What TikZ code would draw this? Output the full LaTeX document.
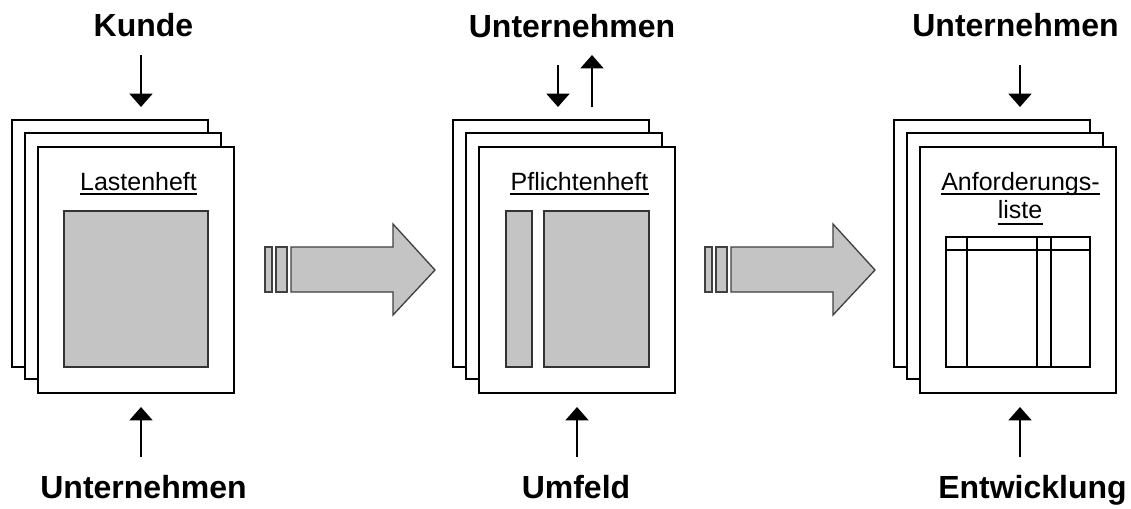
\documentclass[tikz,border=0pt]{standalone}
\usepackage{fontspec}
\setmainfont{Liberation Sans}[Ligatures=NoCommon]
\usetikzlibrary{arrows.meta}
\begin{document}
\begin{tikzpicture}[x=0.75pt,y=-0.75pt,
  page/.style={draw=black,fill=white,line width=1.1pt},
  block/.style={draw=black!80,fill=black!23,line width=1.1pt},
  tablelines/.style={draw=black,line width=1pt},
  label/.style={font=\fontsize{24}{28}\selectfont\bfseries,inner sep=0pt,anchor=base},
  doctitle/.style={font=\fontsize{18.75}{21}\selectfont,inner sep=0pt,anchor=base},
  uline/.style={line width=0.8pt},
  flow/.style={line width=2.2pt,-{Triangle[width=17pt,length=10pt]}},
  bigarrow/.style={draw=black!75,fill=black!23,line width=1pt,line join=miter}]
\useasboundingbox (0,0) rectangle (1131,508);

% --- document stacks ---
\foreach \dx in {0,441,882}{
  \draw[page] (12+\dx,120) rectangle (208+\dx,367);
  \draw[page] (25+\dx,133) rectangle (221+\dx,379);
  \draw[page] (38+\dx,147) rectangle (234+\dx,393);
}

% Lastenheft content
\draw[block] (64,211) rectangle (208,367);
\node[doctitle] (t1) at (138.5,190) {Lastenheft};
\draw[uline] ([yshift=-3pt]t1.base west) -- ([yshift=-3pt]t1.base east);

% Pflichtenheft content
\draw[block] (506,211) rectangle (532,367);
\draw[block] (544,211) rectangle (649,367);
\node[doctitle] (t2) at (579.5,190) {Pflichtenheft};
\draw[uline] ([yshift=-3pt]t2.base west) -- ([yshift=-3pt]t2.base east);

% Anforderungsliste content
\draw[tablelines] (946,237) rectangle (1090,367);
\draw[tablelines] (946,250) -- (1090,250);
\foreach \vx in {967,1037,1051}{
  \draw[tablelines] (\vx,237) -- (\vx,367);
}
\node[doctitle] (t3a) at (1020.5,190) {Anforderungs-};
\draw[uline] ([yshift=-3pt]t3a.base west) -- ([yshift=-3pt]t3a.base east);
\node[doctitle] (t3b) at (1020,218) {liste};
\draw[uline] ([yshift=-4.5pt]t3b.base west) -- ([yshift=-4.5pt]t3b.base east);

% --- transition arrows ---
\foreach \dx in {0,440}{
  \draw[bigarrow] (265+\dx,247) rectangle (272+\dx,292);
  \draw[bigarrow] (276+\dx,247) rectangle (287+\dx,292);
  \draw[bigarrow] (291+\dx,247) -- (393+\dx,247) -- (393+\dx,224) -- (435+\dx,270)
     -- (393+\dx,315) -- (393+\dx,292) -- (291+\dx,292) -- cycle;
}

% --- labels ---
\node[label] (kunde) at (143.5,36) {Kunde};
\node[label] (untA) at (143.5,498) {Unternehmen};
\node[label] (untB) at (572,37) {Unternehmen};
\node[label] (umfeld) at (576,498) {Umfeld};
\node[label] (untC) at (1015.5,36) {Unternehmen};
\node[label] (entw) at (1032.5,498) {Entwicklung};

% --- input/output arrows ---
\coordinate (k0) at (141,55);   \coordinate (k1) at (141,107);
\coordinate (b0) at (558,65);   \coordinate (b1) at (558,107);
\coordinate (c0) at (592,107);  \coordinate (c1) at (592,55);
\coordinate (d0) at (1020,65);  \coordinate (d1) at (1020,107);
\coordinate (e0) at (141,457);  \coordinate (e1) at (141,407);
\coordinate (f0) at (577,457);  \coordinate (f1) at (577,407);
\coordinate (g0) at (1020,457); \coordinate (g1) at (1020,407);
\foreach \s/\e in {k0/k1,b0/b1,c0/c1,d0/d1,e0/e1,f0/f1,g0/g1}{
  \draw[flow] (\s) -- (\e);
}
\end{tikzpicture}
\end{document}
